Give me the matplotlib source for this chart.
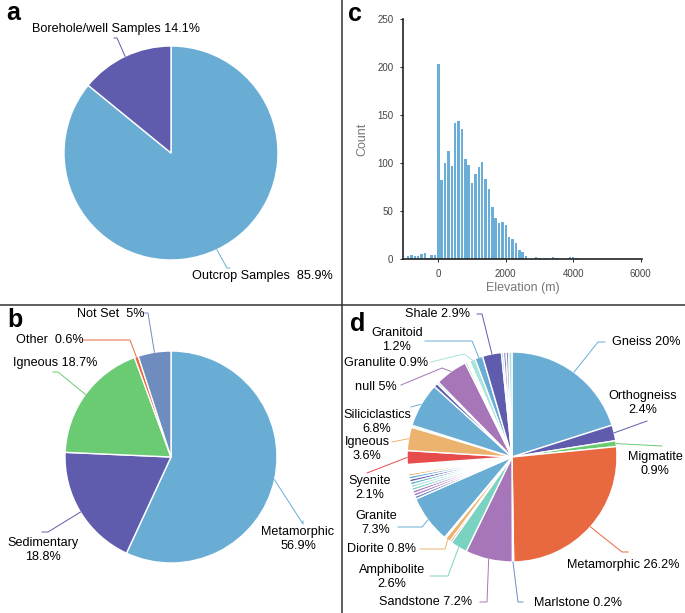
import numpy as np
import matplotlib.pyplot as plt
from matplotlib.lines import Line2D

plt.rcParams['font.family'] = ['Liberation Sans', 'DejaVu Sans']

W, H = 685, 613   # tamaño de la figura en pixeles

# ---------------- datos ----------------
# (a) tipo de muestra
tipo_nombres = ["Outcrop Samples", "Borehole/well Samples"]
tipo_pct = [85.9, 14.1]

# (b) litologia general
lito_nombres = ["Metamorphic", "Sedimentary", "Igneous", "Other", "Not Set"]
lito_pct = [56.9, 18.8, 18.7, 0.6, 5.0]

# (c) histograma de elevacion, clases de 100 m
elev_m = [-900, -800, -700, -600, -500, -400, -300, -200, -100,
          0, 100, 200, 300, 400, 500, 600, 700, 800, 900,
          1000, 1100, 1200, 1300, 1400, 1500, 1600, 1700, 1800, 1900,
          2000, 2100, 2200, 2300, 2400, 2500, 2600,
          2900, 3000, 3200, 3400, 3500, 3900, 4000, 4100]
elev_n = [3, 5, 3, 3, 6, 7, 1, 4, 4,
          203, 83, 100, 113, 97, 142, 144, 136, 104, 98,
          79, 89, 96, 101, 84, 73, 54, 43, 38, 39,
          36, 23, 21, 17, 10, 8, 3,
          2, 1, 1, 2, 1, 2, 2, 1]

# (d) tipo de roca (en el orden del grafico, sentido horario desde arriba)
roca_nombres = ["Gneiss", "Orthogneiss", "Migmatite", "Metamorphic", "Marlstone",
                "Sandstone", "Amphibolite", "", "Diorite", "", "Granite",
                "", "", "", "", "", "", "", "", "",
                "", "", "", "", "", "", "",
                "Syenite", "Igneous", "", "Siliciclastics", "", "", "null",
                "", "", "", "Granulite", "Granitoid", "Shale",
                "", "", "", ""]
roca_pct = [20.0, 2.4, 0.9, 26.2, 0.2,
            7.2, 2.6, 0.3, 0.8, 0.2, 7.3,
            0.45, 0.45, 0.45, 0.45, 0.45, 0.45, 0.45, 0.45, 0.4,
            0.2, 0.2, 0.2, 0.2, 0.2, 0.2, 0.2,
            2.1, 3.6, 0.3, 6.8, 0.6, 0.3, 5.0,
            0.3, 0.2, 0.2, 0.9, 1.2, 2.9,
            0.3, 0.4, 0.4, 0.5]

c1, c2, c3, c4, c5 = '#6aadd4', '#5f5cae', '#6bcb73', '#e8683f', '#6f8cbf'
c6, c7, c8, c9, c10 = '#a676b9', '#7ad3c0', '#e64c4c', '#ecb36e', '#a9e3dc'
roca_col = [c1, c2, c3, c4, c5,
            c6, c7, c8, c9, c10, c1,
            c5, c6, c6, c7, c10, c1, c2, c1, c9,
            c9, c4, c10, c9, c7, c9, c4,
            c8, c9, c10, c1, c2, c7, c6,
            c3, c9, c9, c10, c1, c2,
            c1, c5, c6, c10]

# ---------------- posiciones de etiquetas (px desde arriba) ----------------
# nombre: (x, y, alineacion, dos_lineas, ruta del conector)
etq_a = {
    "Borehole/well Samples": (32, 29, 'left', False, [(117, 38), (114, 38)]),
    "Outcrop Samples": (192, 276, 'left', False, [(227, 268), (230, 268)]),
}
etq_b = {
    "Metamorphic": (298, 539, 'center', True, [(303, 524), (303, 521)]),
    "Sedimentary": (43, 550, 'center', True, [(48, 532), (42, 532)]),
    "Igneous": (13, 363, 'left', False, [(58, 372), (53, 372)]),
    "Other": (16, 340, 'left', False, [(130, 340), (82, 340)]),
    "Not Set": (77, 314, 'left', False, [(148, 313), (143, 313)]),
}
etq_d = {
    "Gneiss": (612, 342, 'left', False, [(598, 342), (605, 342)]),
    "Orthogneiss": (643, 403, 'center', True, [(647, 421)]),
    "Migmatite": (655, 464, 'center', True, [(662, 446)]),
    "Metamorphic": (567, 565, 'left', False, [(622, 552), (628, 552)]),
    "Marlstone": (534, 603, 'left', False, [(518, 602), (523, 602)]),
    "Sandstone": (472, 602, 'right', False, [(487, 602), (480, 602)]),
    "Amphibolite": (392, 577, 'center', True, [(448, 576), (430, 576)]),
    "Diorite": (416, 549, 'right', False, [(445, 549), (420, 549)]),
    "Granite": (376, 523, 'center', True, [(422, 527), (398, 527)]),
    "Syenite": (370, 488, 'center', True, [(398, 461), (367, 473)]),
    "Igneous": (367, 449, 'center', True, [(392, 442)]),
    "Siliciclastics": (377, 422, 'center', True, [(418, 405), (411, 407)]),
    "null": (397, 387, 'right', False, [(442, 368), (401, 385)]),
    "Granulite": (428, 363, 'right', False, [(464, 354), (431, 362)]),
    "Granitoid": (397, 340, 'center', True, [(472, 341), (425, 341)]),
    "Shale": (470, 314, 'right', False, [(482, 314), (477, 314)]),
}
sep_a = {"Borehole/well Samples": " ", "Outcrop Samples": "  "}
sep_b = {"Other": "  ", "Not Set": "  "}


def pastel(ax, valores, colores, centro, radio):
    cunas, _ = ax.pie(valores, colors=colores, startangle=90, counterclock=False,
                      center=(centro[0], H - centro[1]), radius=radio,
                      wedgeprops=dict(edgecolor='white', linewidth=1.0))
    return cunas


def etiquetas(ax, cunas, nombres, valores, posiciones, separadores={}):
    for cuna, nombre, v in zip(cunas, nombres, valores):
        if nombre not in posiciones:
            continue
        x, y, ha, dos, ruta = posiciones[nombre]
        if dos:
            txt = f"{nombre}\n{v:g}%"
        else:
            txt = f"{nombre}{separadores.get(nombre, ' ')}{v:g}%"
        ax.text(x, H - y, txt, ha=ha, va='center', fontsize=9.1,
                multialignment='center', linespacing=1.2, color='black')
        # conector desde el borde de la cuña
        th = np.radians((cuna.theta1 + cuna.theta2) / 2)
        cx, cy = cuna.center
        xs = [cx + cuna.r * np.cos(th)] + [p[0] for p in ruta]
        ys = [cy + cuna.r * np.sin(th)] + [H - p[1] for p in ruta]
        ax.plot(xs, ys, color=cuna.get_facecolor(), lw=0.7)


fig = plt.figure(figsize=(W / 100, H / 100), dpi=100)
ax = fig.add_axes([0, 0, 1, 1])

# (a)
cunas = pastel(ax, tipo_pct, [c1, c2], (171, 153), 107)
etiquetas(ax, cunas, tipo_nombres, tipo_pct, etq_a, sep_a)

# (b)
cunas = pastel(ax, lito_pct, [c1, c2, c3, c4, c5], (171, 457), 106)
etiquetas(ax, cunas, lito_nombres, lito_pct, etq_b, sep_b)

# (d)
cunas = pastel(ax, roca_pct, roca_col, (512, 457), 105)
etiquetas(ax, cunas, roca_nombres, roca_pct, etq_d)

ax.set_xlim(0, W)
ax.set_ylim(0, H)
ax.set_aspect('auto')
ax.axis('off')

# (c) histograma
hx = fig.add_axes([403 / W, (H - 259.3) / H, 239 / W, 240 / H])
hx.bar(elev_m, elev_n, width=75, color='#6aadd6', linewidth=0)
hx.set_xlim(-1050, 6042)
hx.set_ylim(0, 250)
hx.set_xticks([0, 2000, 4000, 6000])
hx.set_yticks([0, 50, 100, 150, 200, 250])
for s in ['top', 'right']:
    hx.spines[s].set_visible(False)
for s in ['left', 'bottom']:
    hx.spines[s].set_linewidth(1.2)
    hx.spines[s].set_color('#222222')
hx.tick_params(labelsize=7, labelcolor='#444444', length=2, width=0.6, pad=5)
hx.set_xlabel("Elevation (m)", fontsize=9, color='#777777', labelpad=2)
hx.set_ylabel("Count", fontsize=9, color='#777777', labelpad=6)

# separadores de paneles
fig.add_artist(Line2D([341.5 / W, 341.5 / W], [0, 1], transform=fig.transFigure,
                      color='#333333', lw=1.1))
fig.add_artist(Line2D([0, 1], [(H - 305) / H, (H - 305) / H], transform=fig.transFigure,
                      color='#333333', lw=1.1))

# letras de panel
for letra, (x, y) in zip("abcd", [(6, 20), (7, 327), (348, 21), (350, 331)]):
    fig.text(x / W, (H - y) / H, letra, fontsize=18, fontweight='bold', ha='left', va='baseline')

fig.savefig("out.png", dpi=100)
